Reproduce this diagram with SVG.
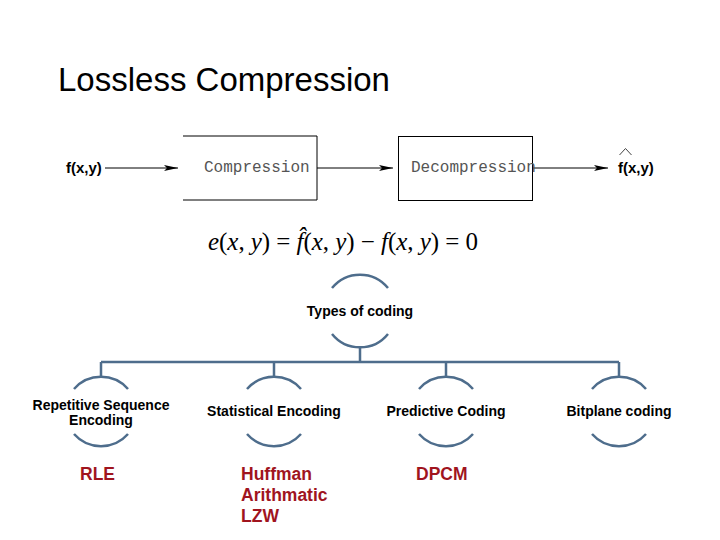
<svg xmlns="http://www.w3.org/2000/svg" width="720" height="540" viewBox="0 0 720 540">
<defs>
<marker id="ah" markerWidth="14" markerHeight="7" refX="14" refY="3.5" orient="auto" markerUnits="userSpaceOnUse">
<path d="M0,0.5 L14,3.5 L0,6.5 L3,3.5 z" fill="#000"/>
</marker>
<style>
.title{font-family:"Liberation Sans",Arial,sans-serif;font-size:33px;fill:#000}
.mono{font-family:"Liberation Mono","Courier New",monospace;font-size:16px;fill:#555}
.fxy{font-family:"Liberation Sans",Arial,sans-serif;font-size:15px;font-weight:bold;fill:#000}
.eq{font-family:"Liberation Serif","Times New Roman",serif;font-size:25px;fill:#000}
.it{font-style:italic}
.lbl{font-family:"Liberation Sans",Arial,sans-serif;font-size:14px;font-weight:bold;fill:#000;text-anchor:middle}
.red{font-family:"Liberation Sans",Arial,sans-serif;font-size:17.5px;font-weight:bold;fill:#a0141e}
.box{fill:none;stroke:#000;stroke-width:1}
.flow{stroke:#000;stroke-width:1;fill:none}
.tree{stroke:#4e6d8c;stroke-width:2.5;fill:none}
</style>
</defs>
<rect width="720" height="540" fill="#fff"/>
<text class="title" x="58" y="91">Lossless Compression</text>

<g id="connectors">
<line class="flow" x1="105" y1="168" x2="178" y2="168" marker-end="url(#ah)"/>
<line class="flow" x1="317" y1="168" x2="393" y2="168" marker-end="url(#ah)"/>
<line class="flow" x1="532" y1="168" x2="608" y2="168" marker-end="url(#ah)"/>
<path class="tree" d="M360,346 V362 M101,362 H619 M101,362 V376 M274,362 V376 M446,362 V376 M619,362 V376"/>
</g>

<g id="input">
<text class="fxy" x="66" y="173">f(x,y)</text>
</g>
<g id="compression">
<path class="box" d="M183,136 H317 V200 H183"/>
<text class="mono" x="204" y="172">Compression</text>
</g>
<g id="decompression">
<rect class="box" x="398.5" y="136.5" width="134" height="64"/>
<text class="mono" x="411" y="172">Decompression</text>
</g>
<g id="output">
<text class="fxy" x="618" y="173">f(x,y)</text>
<polyline points="619.5,155 625.5,148.5 631.5,155" fill="none" stroke="#444" stroke-width="1"/>
</g>

<g id="equation">
<text class="eq" x="208" y="250" textLength="270" lengthAdjust="spacing"><tspan class="it">e</tspan>(<tspan class="it">x</tspan>, <tspan class="it">y</tspan>) = <tspan class="it">f̂</tspan>(<tspan class="it">x</tspan>, <tspan class="it">y</tspan>) − <tspan class="it">f</tspan>(<tspan class="it">x</tspan>, <tspan class="it">y</tspan>) = 0</text>
</g>

<g id="types-of-coding">
<path class="tree" d="M332,288 A36,36 0 0 1 388,288 M332,334 A36,36 0 0 0 388,334"/>
<text class="lbl" x="360" y="316">Types of coding</text>
</g>

<g id="repetitive">
<path class="tree" d="M74,389 A36,36 0 0 1 128,389 M74,434 A36,36 0 0 0 128,434"/>
<text class="lbl" x="101" y="410">Repetitive Sequence</text>
<text class="lbl" x="101" y="425">Encoding</text>
</g>
<g id="statistical">
<path class="tree" d="M247,389 A36,36 0 0 1 301,389 M247,434 A36,36 0 0 0 301,434"/>
<text class="lbl" x="274" y="416">Statistical Encoding</text>
</g>
<g id="predictive">
<path class="tree" d="M419,389 A36,36 0 0 1 473,389 M419,434 A36,36 0 0 0 473,434"/>
<text class="lbl" x="446" y="416">Predictive Coding</text>
</g>
<g id="bitplane">
<path class="tree" d="M592,389 A36,36 0 0 1 646,389 M592,434 A36,36 0 0 0 646,434"/>
<text class="lbl" x="619" y="416">Bitplane coding</text>
</g>

<g id="examples">
<text class="red" x="80" y="480">RLE</text>
<text class="red" x="241" y="480">Huffman</text>
<text class="red" x="241" y="501">Arithmatic</text>
<text class="red" x="241" y="522">LZW</text>
<text class="red" x="416" y="480">DPCM</text>
</g>
</svg>
